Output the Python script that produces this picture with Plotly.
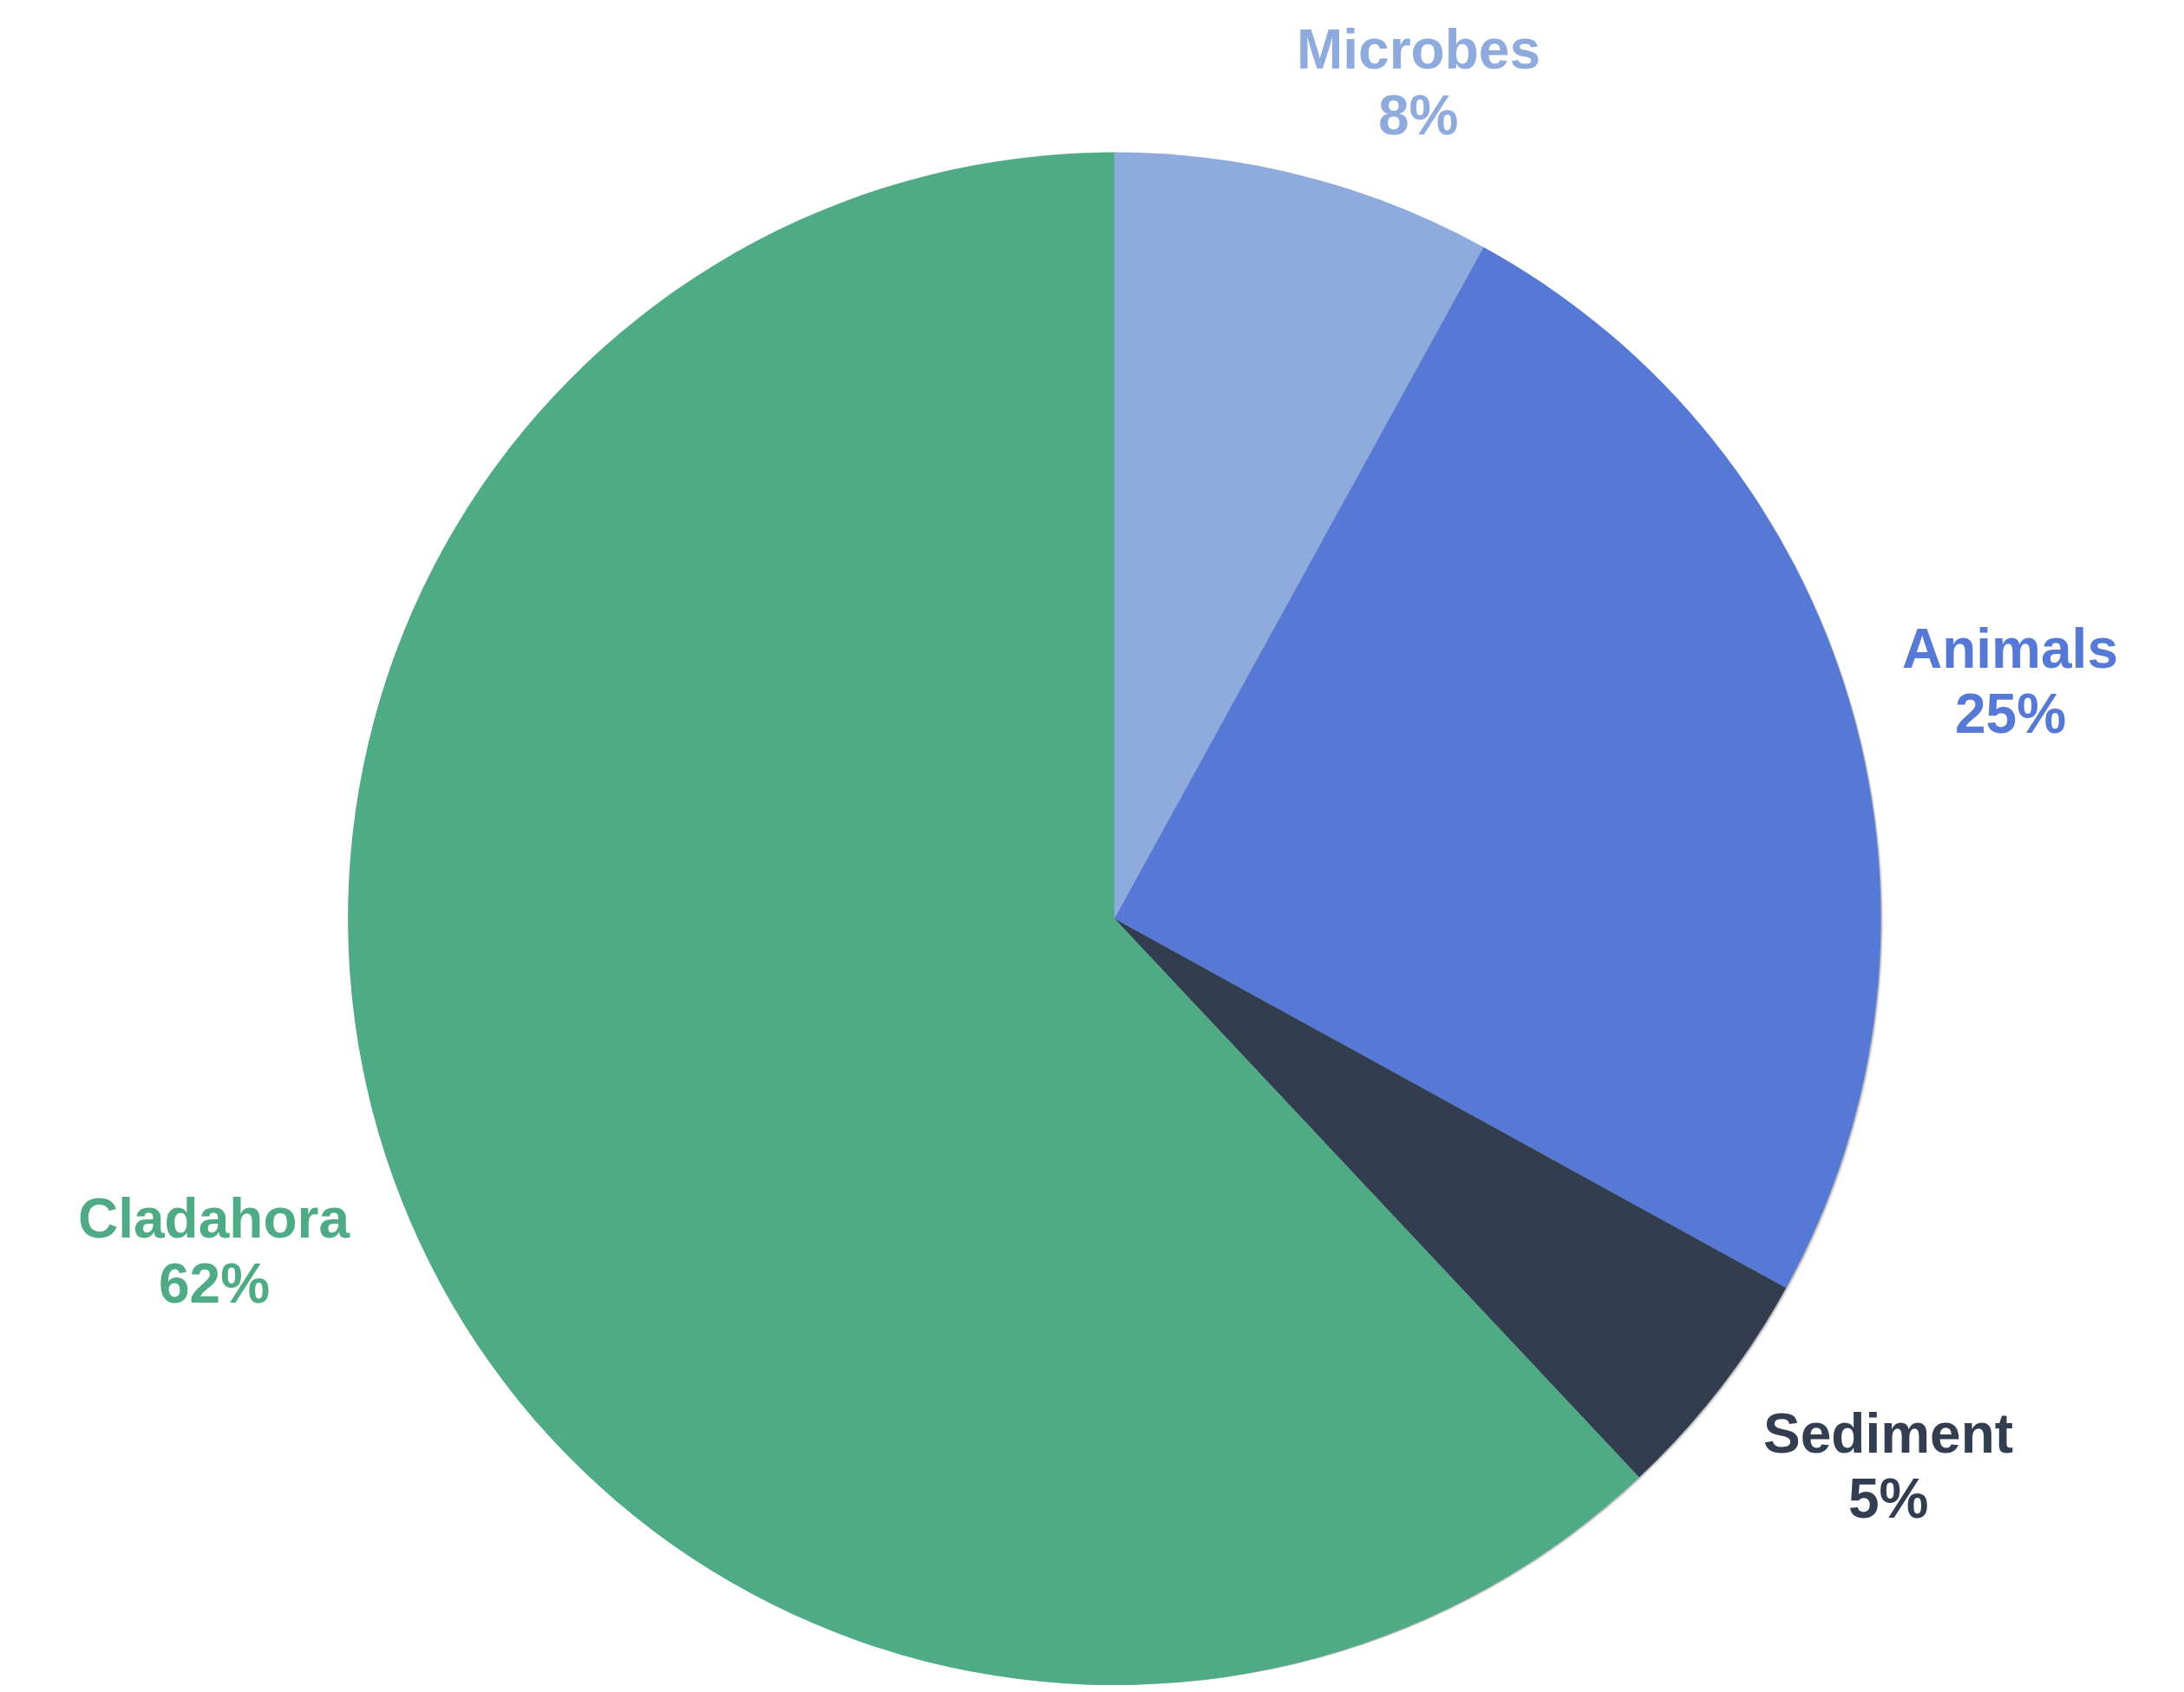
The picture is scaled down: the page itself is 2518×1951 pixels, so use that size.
import plotly.graph_objects as go

labels = ["Microbes", "Animals", "Sediment", "Cladahora"]
values = [8, 25, 5, 62]
colors = ["#8FAADC", "#5779D6", "#333D50", "#4FAB86"]

W, H = 2518, 1951
cx = 1285                 # pie centre x in px
top = 169                 # top of pie domain in px
R_NOM = (H - top) / 2     # nominal radius (domain half height)
INSET = 7                 # plotly draws the pie slightly inside its domain
r = R_NOM - INSET
cy = top + R_NOM

# label centres relative to the pie centre, in units of radius
label_off = [(0.399, -1.100), (1.176, -0.312), (1.016, 0.720), (-1.182, 0.437)]
LINE_HALF = 38            # half distance between name line and percent line, px

def dom(dx=0, dy=0):
    return dict(x=[(cx - R_NOM - 20 + dx) / W, (cx + R_NOM + 20 + dx) / W],
                y=[0.0, (H - top - dy) / H])

fig = go.Figure()
# soft shadow layers
for off, a in [(6, 0.06), (4, 0.10), (2, 0.16)]:
    fig.add_trace(go.Pie(values=values, labels=labels, sort=False, direction="clockwise",
                         rotation=0, domain=dom(off, off), textinfo="none", hoverinfo="skip",
                         marker=dict(colors=[f"rgba(0,0,0,{a})"] * len(values), line=dict(width=0)),
                         showlegend=False))
fig.add_trace(go.Pie(values=values, labels=labels, sort=False, direction="clockwise",
                     rotation=0, domain=dom(), textinfo="none",
                     marker=dict(colors=colors, line=dict(width=0)), showlegend=False))

total = sum(values)
anns = []
font = "Liberation Sans, Arial, sans-serif"
for lab, v, col, (ox, oy) in zip(labels, values, colors, label_off):
    px = cx + ox * r
    py = cy + oy * r
    for txt, yy in [(lab, py - LINE_HALF), (f"{round(v / total * 100)}%", py + LINE_HALF)]:
        anns.append(dict(x=px / W, y=1 - yy / H, xref="paper", yref="paper",
                         text=f"<b>{txt}</b>", showarrow=False,
                         font=dict(family=font, size=64, color=col),
                         xanchor="center", yanchor="middle", align="center"))

fig.update_layout(margin=dict(l=0, r=0, t=0, b=0), paper_bgcolor="white",
                  plot_bgcolor="white", annotations=anns, showlegend=False)
fig.write_html("out.html")
